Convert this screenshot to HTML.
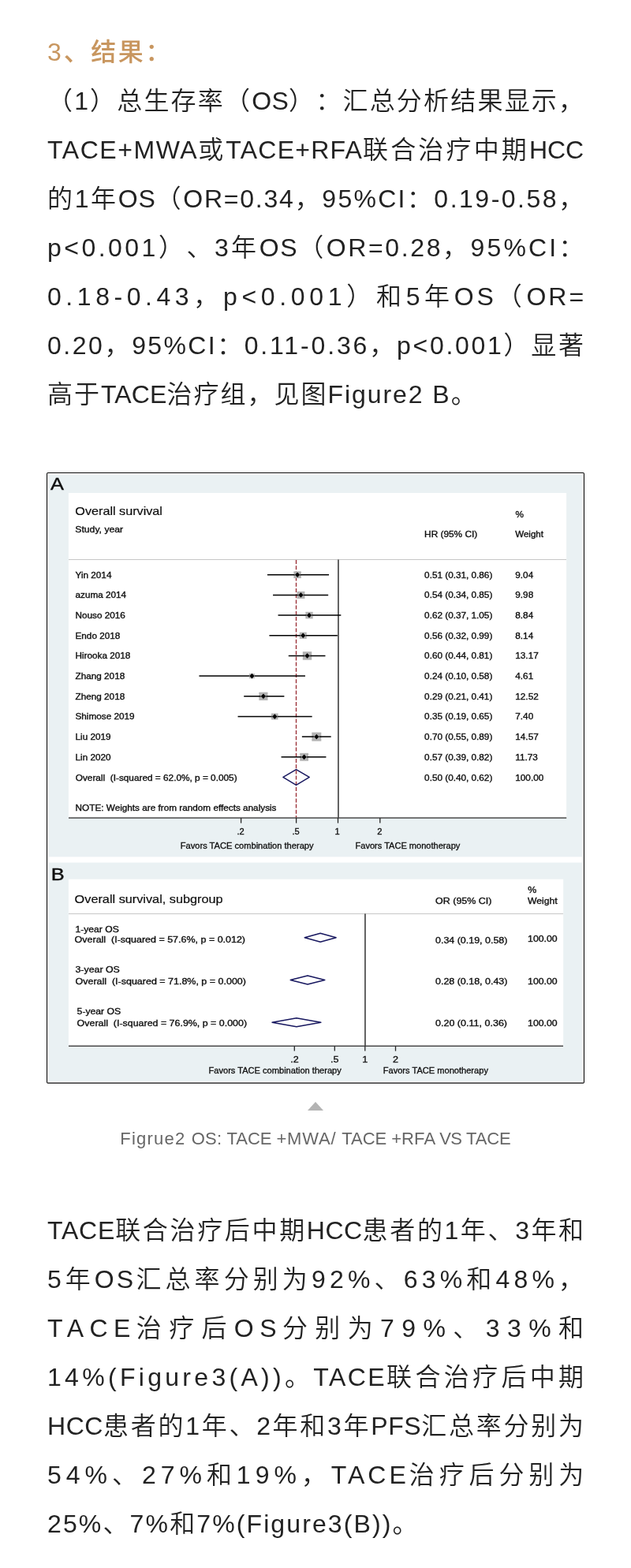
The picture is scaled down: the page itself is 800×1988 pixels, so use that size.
<!DOCTYPE html>
<html lang="zh-CN">
<head>
<meta charset="utf-8">
<title>3、结果</title>
<style>
html,body{margin:0;padding:0;background:#fff}
body{text-spacing-trim:space-all;position:relative;width:800px;height:1988px;overflow:hidden;font-family:"Liberation Sans", "Noto Sans CJK SC", sans-serif;color:#222222}
.h{position:absolute;left:60px;margin:0;font-size:32px;line-height:62px;font-weight:500;color:#c8965f;letter-spacing:2px;white-space:nowrap}
.para{margin:0}
.l{display:block;position:absolute;left:60px;height:62px;margin:0;font-size:32px;line-height:62px;font-weight:350;white-space:nowrap}
.fig{position:absolute;left:59px;top:599px;width:682px;height:775px;margin:0}
.fig svg{display:block}
.tri{position:absolute;left:390px;top:1397px;width:0;height:0;border-left:10px solid transparent;border-right:10px solid transparent;border-bottom:11px solid #b4b4b4}
.cap{position:absolute;left:0;top:1424px;width:800px;margin:0;text-align:center;font-size:22px;line-height:40px;font-weight:350;letter-spacing:0.33px;color:#666666;white-space:nowrap}
</style>
</head>
<body>
<h3 class="h" style="top:35px;letter-spacing:2.5px"><span style="letter-spacing:2.953px">3</span>、结果：</h3>
<p class="para">
<span class="l" style="top:97px;letter-spacing:2.196px">（<span style="letter-spacing:1.977px">1</span>）总生存率（<span style="letter-spacing:0.329px">OS</span>）：汇总分析结果显示，</span>
<span class="l" style="top:159px;letter-spacing:3.155px"><span style="letter-spacing:1.561px">TACE+MWA</span>或<span style="letter-spacing:1.229px">TACE+RFA</span>联合治疗中期<span style="letter-spacing:-0.142px">HCC</span></span>
<span class="l" style="top:221px;letter-spacing:2.688px">的<span style="letter-spacing:2.469px">1</span>年<span style="letter-spacing:0.82px">OS</span>（<span style="letter-spacing:1.768px">OR=0.34</span>，<span style="letter-spacing:2.25px">95%CI</span>：<span style="letter-spacing:2.509px">0.19-0.58</span>，</span>
<span class="l" style="top:283px;letter-spacing:3.534px"><span style="letter-spacing:3.474px">p&lt;0.001</span>）、<span style="letter-spacing:3.315px">3</span>年<span style="letter-spacing:1.667px">OS</span>（<span style="letter-spacing:2.615px">OR=0.28</span>，<span style="letter-spacing:3.097px">95%CI</span>：</span>
<span class="l" style="top:345px;letter-spacing:5.73px"><span style="letter-spacing:5.551px">0.18-0.43</span>，<span style="letter-spacing:5.67px">p&lt;0.001</span>）和<span style="letter-spacing:5.511px">5</span>年<span style="letter-spacing:3.863px">OS</span>（<span style="letter-spacing:2.996px">OR=</span></span>
<span class="l" style="top:407px;letter-spacing:2.77px"><span style="letter-spacing:2.528px">0.20</span>，<span style="letter-spacing:2.332px">95%CI</span>：<span style="letter-spacing:2.855px">0.11-0.36</span>，<span style="letter-spacing:2.71px">p&lt;0.001</span>）显著</span>
<span class="l" style="top:469px;letter-spacing:2px">高于<span style="letter-spacing:0.125px">TACE</span>治疗组，见图<span style="letter-spacing:1.932px">Figure2 B</span>。</span>
</p>
<figure class="fig"><svg width="682" height="775" viewBox="59 599 682 775" role="img" aria-label="Forest plots of overall survival" font-family="'Liberation Sans', sans-serif" fill="#101010">
<style>.panel{stroke:#101010;stroke-width:0.4px}.title{stroke:#101010;stroke-width:0.2px}.sub{stroke:#101010;stroke-width:0.34px}.data{stroke:#101010;stroke-width:0.34px}.dataB{stroke:#101010;stroke-width:0.34px}.axis{stroke:#101010;stroke-width:0.3px}.tickA{stroke:#101010;stroke-width:0.3px}.tickB{stroke:#101010;stroke-width:0.3px}</style>
<rect x="59" y="599" width="682" height="775" fill="#fff"/>
<rect x="61.8" y="601.4" width="676" height="485" fill="#eaf1f3"/>
<rect x="61.8" y="1093.6" width="676" height="277.6" fill="#eaf1f3"/>
<rect x="59.55" y="599.55" width="680.9" height="773.6" rx="1.2" fill="none" stroke="#0a0a0a" stroke-width="1.1"/>
<rect x="86.9" y="625" width="631.2" height="412" fill="#fff"/>
<rect x="86.9" y="1114.7" width="627.3" height="211.6" fill="#fff"/>
<line x1="87" x2="718" y1="709.5" y2="709.5" stroke="#c6c6c6" stroke-width="1"/>
<line x1="375.5" x2="375.5" y1="710" y2="1037" stroke="#9a2f36" stroke-width="1.35" stroke-dasharray="5 2.2"/>
<line x1="428.95" x2="428.95" y1="709.5" y2="1037" stroke="#303030" stroke-width="1.5"/>
<g id="ciA">
<rect x="372.35" y="724.39" width="9.47" height="8.71" fill="#b3b3b3"/>
<line x1="339" x2="417.06" y1="728.75" y2="728.75" stroke="#000" stroke-width="1.5"/>
<path d="M373.69 728.75L377.09 725.05L380.49 728.75L377.09 732.45Z" fill="#000" stroke="#e8e8e8" stroke-width="0.5"/>
<rect x="376.49" y="749.84" width="9.95" height="9.16" fill="#b3b3b3"/>
<line x1="346.07" x2="416.17" y1="754.42" y2="754.42" stroke="#000" stroke-width="1.5"/>
<path d="M378.06 754.42L381.46 750.72L384.86 754.42L381.46 758.12Z" fill="#000" stroke="#e8e8e8" stroke-width="0.5"/>
<rect x="387.35" y="775.78" width="9.37" height="8.62" fill="#b3b3b3"/>
<line x1="352.54" x2="432.33" y1="780.09" y2="780.09" stroke="#000" stroke-width="1.5"/>
<path d="M388.63 780.09L392.03 776.39L395.43 780.09L392.03 783.79Z" fill="#000" stroke="#e8e8e8" stroke-width="0.5"/>
<rect x="379.75" y="801.63" width="8.99" height="8.27" fill="#b3b3b3"/>
<line x1="341.43" x2="427.83" y1="805.76" y2="805.76" stroke="#000" stroke-width="1.5"/>
<path d="M380.84 805.76L384.24 802.06L387.64 805.76L384.24 809.46Z" fill="#000" stroke="#e8e8e8" stroke-width="0.5"/>
<rect x="383.81" y="826.17" width="11.43" height="10.52" fill="#b3b3b3"/>
<line x1="365.79" x2="412.48" y1="831.43" y2="831.43" stroke="#000" stroke-width="1.5"/>
<path d="M386.12 831.43L389.52 827.73L392.92 831.43L389.52 835.13Z" fill="#000" stroke="#e8e8e8" stroke-width="0.5"/>
<rect x="316.04" y="853.99" width="6.76" height="6.22" fill="#b3b3b3"/>
<line x1="252.45" x2="386.93" y1="857.1" y2="857.1" stroke="#000" stroke-width="1.5"/>
<path d="M316.03 857.1L319.43 853.4L322.83 857.1L319.43 860.8Z" fill="#000" stroke="#e8e8e8" stroke-width="0.5"/>
<rect x="328.33" y="877.64" width="11.15" height="10.25" fill="#b3b3b3"/>
<line x1="309.21" x2="360.39" y1="882.77" y2="882.77" stroke="#000" stroke-width="1.5"/>
<path d="M330.5 882.77L333.9 879.07L337.3 882.77L333.9 886.47Z" fill="#000" stroke="#e8e8e8" stroke-width="0.5"/>
<rect x="344" y="904.5" width="8.57" height="7.88" fill="#b3b3b3"/>
<line x1="301.55" x2="395.65" y1="908.44" y2="908.44" stroke="#000" stroke-width="1.5"/>
<path d="M344.89 908.44L348.29 904.74L351.69 908.44L348.29 912.14Z" fill="#000" stroke="#e8e8e8" stroke-width="0.5"/>
<rect x="395.3" y="928.58" width="12.02" height="11.06" fill="#b3b3b3"/>
<line x1="382.87" x2="419.69" y1="934.11" y2="934.11" stroke="#000" stroke-width="1.5"/>
<path d="M397.91 934.11L401.31 930.41L404.71 934.11L401.31 937.81Z" fill="#000" stroke="#e8e8e8" stroke-width="0.5"/>
<rect x="380.2" y="954.82" width="10.79" height="9.93" fill="#b3b3b3"/>
<line x1="356.57" x2="413.42" y1="959.78" y2="959.78" stroke="#000" stroke-width="1.5"/>
<path d="M382.2 959.78L385.6 956.08L389 959.78L385.6 963.48Z" fill="#000" stroke="#e8e8e8" stroke-width="0.5"/>
</g>
<path d="M358.9 985.4L375.5 975.6L392.2 985.4L375.5 995.3Z" fill="none" stroke="#17175f" stroke-width="1.45" stroke-linejoin="round"/>
<line x1="87" x2="718.2" y1="1037" y2="1037" stroke="#4a4a4a" stroke-width="1.5"/>
<line x1="305.6" x2="305.6" y1="1037" y2="1043.6" stroke="#262626" stroke-width="1.3"/>
<line x1="375.6" x2="375.6" y1="1037" y2="1043.6" stroke="#262626" stroke-width="1.3"/>
<line x1="428.5" x2="428.5" y1="1037" y2="1043.6" stroke="#262626" stroke-width="1.3"/>
<line x1="481.8" x2="481.8" y1="1037" y2="1043.6" stroke="#262626" stroke-width="1.3"/>
<line x1="87" x2="714" y1="1158.6" y2="1158.6" stroke="#c6c6c6" stroke-width="1"/>
<line x1="462.95" x2="462.95" y1="1158.6" y2="1326" stroke="#303030" stroke-width="1.5"/>
<path d="M386.2 1188.75L406.15 1183.25L426.1 1188.75L406.15 1194.25Z" fill="none" stroke="#17175f" stroke-width="1.45" stroke-linejoin="round"/>
<path d="M368.2 1242.5L390 1237L411.8 1242.5L390 1248Z" fill="none" stroke="#17175f" stroke-width="1.45" stroke-linejoin="round"/>
<path d="M345 1296.25L375.9 1290.75L406.8 1296.25L375.9 1301.75Z" fill="none" stroke="#17175f" stroke-width="1.45" stroke-linejoin="round"/>
<line x1="87" x2="714" y1="1326.3" y2="1326.3" stroke="#4a4a4a" stroke-width="1.5"/>
<line x1="373.3" x2="373.3" y1="1326.3" y2="1332.6" stroke="#262626" stroke-width="1.3"/>
<line x1="424.3" x2="424.3" y1="1326.3" y2="1332.6" stroke="#262626" stroke-width="1.3"/>
<line x1="462.8" x2="462.8" y1="1326.3" y2="1332.6" stroke="#262626" stroke-width="1.3"/>
<line x1="501.5" x2="501.5" y1="1326.3" y2="1332.6" stroke="#262626" stroke-width="1.3"/>
<text xml:space="preserve" class="panel" transform="matrix(1.15 0 0 1 64.12 621.1)" font-size="22.1">A</text>
<text xml:space="preserve" class="title" transform="matrix(1.1582 0 0 1 95.3 652.8)" font-size="14">Overall survival</text>
<text xml:space="preserve" class="sub" transform="matrix(1.2216 0 0 1 95.3 675)" font-size="10">Study, year</text>
<text xml:space="preserve" class="data" transform="matrix(1.1856 0 0 1 538.1 681.3)" font-size="10">HR (95% CI)</text>
<text xml:space="preserve" class="data" transform="matrix(1.1753 0 0 1 653.4 656)" font-size="10">%</text>
<text xml:space="preserve" class="data" transform="matrix(1.1568 0 0 1 653.25 681.3)" font-size="10">Weight</text>
<text xml:space="preserve" class="data" transform="matrix(1.1753 0 0 1 95.5 732.65)" font-size="10">Yin 2014</text>
<text xml:space="preserve" class="data" transform="matrix(1.1753 0 0 1 538.1 732.65)" font-size="10">0.51 (0.31, 0.86)</text>
<text xml:space="preserve" class="data" transform="matrix(1.1753 0 0 1 653.3 732.65)" font-size="10">9.04</text>
<text xml:space="preserve" class="data" transform="matrix(1.1753 0 0 1 95.5 758.32)" font-size="10">azuma 2014</text>
<text xml:space="preserve" class="data" transform="matrix(1.1753 0 0 1 538.1 758.32)" font-size="10">0.54 (0.34, 0.85)</text>
<text xml:space="preserve" class="data" transform="matrix(1.1753 0 0 1 653.3 758.32)" font-size="10">9.98</text>
<text xml:space="preserve" class="data" transform="matrix(1.1753 0 0 1 95.5 783.99)" font-size="10">Nouso 2016</text>
<text xml:space="preserve" class="data" transform="matrix(1.1753 0 0 1 538.1 783.99)" font-size="10">0.62 (0.37, 1.05)</text>
<text xml:space="preserve" class="data" transform="matrix(1.1753 0 0 1 653.3 783.99)" font-size="10">8.84</text>
<text xml:space="preserve" class="data" transform="matrix(1.1753 0 0 1 95.5 809.66)" font-size="10">Endo 2018</text>
<text xml:space="preserve" class="data" transform="matrix(1.1753 0 0 1 538.1 809.66)" font-size="10">0.56 (0.32, 0.99)</text>
<text xml:space="preserve" class="data" transform="matrix(1.1753 0 0 1 653.3 809.66)" font-size="10">8.14</text>
<text xml:space="preserve" class="data" transform="matrix(1.1753 0 0 1 95.5 835.33)" font-size="10">Hirooka 2018</text>
<text xml:space="preserve" class="data" transform="matrix(1.1753 0 0 1 538.1 835.33)" font-size="10">0.60 (0.44, 0.81)</text>
<text xml:space="preserve" class="data" transform="matrix(1.1753 0 0 1 653.3 835.33)" font-size="10">13.17</text>
<text xml:space="preserve" class="data" transform="matrix(1.1753 0 0 1 95.5 861)" font-size="10">Zhang 2018</text>
<text xml:space="preserve" class="data" transform="matrix(1.1753 0 0 1 538.1 861)" font-size="10">0.24 (0.10, 0.58)</text>
<text xml:space="preserve" class="data" transform="matrix(1.1753 0 0 1 653.3 861)" font-size="10">4.61</text>
<text xml:space="preserve" class="data" transform="matrix(1.1753 0 0 1 95.5 886.67)" font-size="10">Zheng 2018</text>
<text xml:space="preserve" class="data" transform="matrix(1.1753 0 0 1 538.1 886.67)" font-size="10">0.29 (0.21, 0.41)</text>
<text xml:space="preserve" class="data" transform="matrix(1.1753 0 0 1 653.3 886.67)" font-size="10">12.52</text>
<text xml:space="preserve" class="data" transform="matrix(1.1753 0 0 1 95.5 912.34)" font-size="10">Shimose 2019</text>
<text xml:space="preserve" class="data" transform="matrix(1.1753 0 0 1 538.1 912.34)" font-size="10">0.35 (0.19, 0.65)</text>
<text xml:space="preserve" class="data" transform="matrix(1.1753 0 0 1 653.3 912.34)" font-size="10">7.40</text>
<text xml:space="preserve" class="data" transform="matrix(1.1753 0 0 1 95.5 938.01)" font-size="10">Liu 2019</text>
<text xml:space="preserve" class="data" transform="matrix(1.1753 0 0 1 538.1 938.01)" font-size="10">0.70 (0.55, 0.89)</text>
<text xml:space="preserve" class="data" transform="matrix(1.1753 0 0 1 653.3 938.01)" font-size="10">14.57</text>
<text xml:space="preserve" class="data" transform="matrix(1.1753 0 0 1 95.5 963.68)" font-size="10">Lin 2020</text>
<text xml:space="preserve" class="data" transform="matrix(1.1753 0 0 1 538.1 963.68)" font-size="10">0.57 (0.39, 0.82)</text>
<text xml:space="preserve" class="data" transform="matrix(1.1753 0 0 1 653.3 963.68)" font-size="10">11.73</text>
<text xml:space="preserve" class="data" transform="matrix(1.1829 0 0 1 95.75 989.65)" font-size="10">Overall  (I-squared = 62.0%, p = 0.005)</text>
<text xml:space="preserve" class="data" transform="matrix(1.1753 0 0 1 538.1 989.65)" font-size="10">0.50 (0.40, 0.62)</text>
<text xml:space="preserve" class="data" transform="matrix(1.1753 0 0 1 653.3 989.65)" font-size="10">100.00</text>
<text xml:space="preserve" class="data" transform="matrix(1.1759 0 0 1 95.6 1028.2)" font-size="10">NOTE: Weights are from random effects analysis</text>
<text xml:space="preserve" class="tickA" transform="matrix(1.1094 0 0 1 300.51 1057.5)" font-size="10">.2</text>
<text xml:space="preserve" class="tickA" transform="matrix(1.1094 0 0 1 370.51 1057.5)" font-size="10">.5</text>
<text xml:space="preserve" class="tickA" transform="matrix(1.1094 0 0 1 424.42 1057.5)" font-size="10">1</text>
<text xml:space="preserve" class="tickA" transform="matrix(1.1094 0 0 1 478.3 1057.5)" font-size="10">2</text>
<text xml:space="preserve" class="axis" transform="matrix(1.1128 0 0 1 228.75 1075.5)" font-size="10">Favors TACE combination therapy</text>
<text xml:space="preserve" class="axis" transform="matrix(1.1066 0 0 1 450.5 1075.5)" font-size="10">Favors TACE monotherapy</text>
<text xml:space="preserve" class="panel" transform="matrix(1.15 0 0 1 64.67 1115.6)" font-size="22.1">B</text>
<text xml:space="preserve" class="title" transform="matrix(1.1625 0 0 1 94.6 1145.4)" font-size="14">Overall survival, subgroup</text>
<text xml:space="preserve" class="dataB" transform="matrix(1.2102 0 0 1 552.1 1146.4)" font-size="10.3">OR (95% CI)</text>
<text xml:space="preserve" class="dataB" transform="matrix(1.1999 0 0 1 669.2 1132)" font-size="10.3">%</text>
<text xml:space="preserve" class="dataB" transform="matrix(1.1812 0 0 1 669.1 1146.4)" font-size="10.3">Weight</text>
<text xml:space="preserve" class="dataB" transform="matrix(1.1794 0 0 1 95.5 1181.6)" font-size="10.3">1-year OS</text>
<text xml:space="preserve" class="dataB" transform="matrix(1.2125 0 0 1 94.6 1195)" font-size="10.3">Overall  (I-squared = 57.6%, p = 0.012)</text>
<text xml:space="preserve" class="dataB" transform="matrix(1.2007 0 0 1 95.5 1233)" font-size="10.3">3-year OS</text>
<text xml:space="preserve" class="dataB" transform="matrix(1.2125 0 0 1 95.5 1247.6)" font-size="10.3">Overall  (I-squared = 71.8%, p = 0.000)</text>
<text xml:space="preserve" class="dataB" transform="matrix(1.1858 0 0 1 97.6 1286.4)" font-size="10.3">5-year OS</text>
<text xml:space="preserve" class="dataB" transform="matrix(1.2069 0 0 1 97.6 1300.5)" font-size="10.3">Overall  (I-squared = 76.9%, p = 0.000)</text>
<text xml:space="preserve" class="dataB" transform="matrix(1.2112 0 0 1 552 1196)" font-size="10.3">0.34 (0.19, 0.58)</text>
<text xml:space="preserve" class="dataB" transform="matrix(1.1899 0 0 1 669.1 1193.6)" font-size="10.3">100.00</text>
<text xml:space="preserve" class="dataB" transform="matrix(1.2112 0 0 1 552 1248.1)" font-size="10.3">0.28 (0.18, 0.43)</text>
<text xml:space="preserve" class="dataB" transform="matrix(1.1899 0 0 1 669.1 1248)" font-size="10.3">100.00</text>
<text xml:space="preserve" class="dataB" transform="matrix(1.2169 0 0 1 552 1300.6)" font-size="10.3">0.20 (0.11, 0.36)</text>
<text xml:space="preserve" class="dataB" transform="matrix(1.1899 0 0 1 669.1 1300.6)" font-size="10.3">100.00</text>
<text xml:space="preserve" class="tickB" transform="matrix(1.1981 0 0 1 368.16 1347)" font-size="10.5">.2</text>
<text xml:space="preserve" class="tickB" transform="matrix(1.1981 0 0 1 419.03 1347)" font-size="10.5">.5</text>
<text xml:space="preserve" class="tickB" transform="matrix(1.1981 0 0 1 459.16 1347)" font-size="10.5">1</text>
<text xml:space="preserve" class="tickB" transform="matrix(1.1981 0 0 1 498.03 1347)" font-size="10.5">2</text>
<text xml:space="preserve" class="axis" transform="matrix(1.1095 0 0 1 264.5 1360.75)" font-size="10">Favors TACE combination therapy</text>
<text xml:space="preserve" class="axis" transform="matrix(1.1087 0 0 1 485.75 1360.75)" font-size="10">Favors TACE monotherapy</text>
</svg></figure>
<div class="tri"></div>
<p class="cap" style="letter-spacing:0"><span style="letter-spacing:1.218px">Figrue2 </span><span style="letter-spacing:0.208px">OS: </span><span style="letter-spacing:-0.072px">TACE </span><span style="letter-spacing:0.817px">+MWA/ </span><span style="letter-spacing:-0.072px">TACE </span><span style="letter-spacing:0.116px">+RFA </span><span style="letter-spacing:-0.566px">VS </span><span style="letter-spacing:-0.089px">TACE</span></p>
<p class="para">
<span class="l" style="top:1529px;letter-spacing:2.667px"><span style="letter-spacing:0.792px">TACE</span>联合治疗后中期<span style="letter-spacing:0.469px">HCC</span>患者的<span style="letter-spacing:2.448px">1</span>年、<span style="letter-spacing:2.448px">3</span>年和</span>
<span class="l" style="top:1591px;letter-spacing:5.085px"><span style="letter-spacing:4.866px">5</span>年<span style="letter-spacing:3.218px">OS</span>汇总率分别为<span style="letter-spacing:5.199px">92%</span>、<span style="letter-spacing:5.199px">63%</span>和<span style="letter-spacing:5.199px">48%</span>，</span>
<span class="l" style="top:1653px;letter-spacing:9.33px"><span style="letter-spacing:7.455px">TACE</span>治疗后<span style="letter-spacing:7.463px">OS</span>分别为<span style="letter-spacing:9.444px">79%</span>、<span style="letter-spacing:9.444px">33%</span>和</span>
<span class="l" style="top:1715px;letter-spacing:4.323px"><span style="letter-spacing:4.298px">14%(Figure3(A))</span>。<span style="letter-spacing:2.448px">TACE</span>联合治疗后中期</span>
<span class="l" style="top:1777px;letter-spacing:2.765px"><span style="letter-spacing:0.567px">HCC</span>患者的<span style="letter-spacing:2.546px">1</span>年、<span style="letter-spacing:2.546px">2</span>年和<span style="letter-spacing:2.546px">3</span>年<span style="letter-spacing:0.603px">PFS</span>汇总率分别为</span>
<span class="l" style="top:1839px;letter-spacing:5.876px"><span style="letter-spacing:5.99px">54%</span>、<span style="letter-spacing:5.99px">27%</span>和<span style="letter-spacing:5.99px">19%</span>，<span style="letter-spacing:4.001px">TACE</span>治疗后分别为</span>
<span class="l" style="top:1901px;letter-spacing:2px"><span style="letter-spacing:2.115px">25%</span>、<span style="letter-spacing:2.289px">7%</span>和<span style="letter-spacing:2.104px">7%(Figure3(B))</span>。</span>
</p>
</body>
</html>
